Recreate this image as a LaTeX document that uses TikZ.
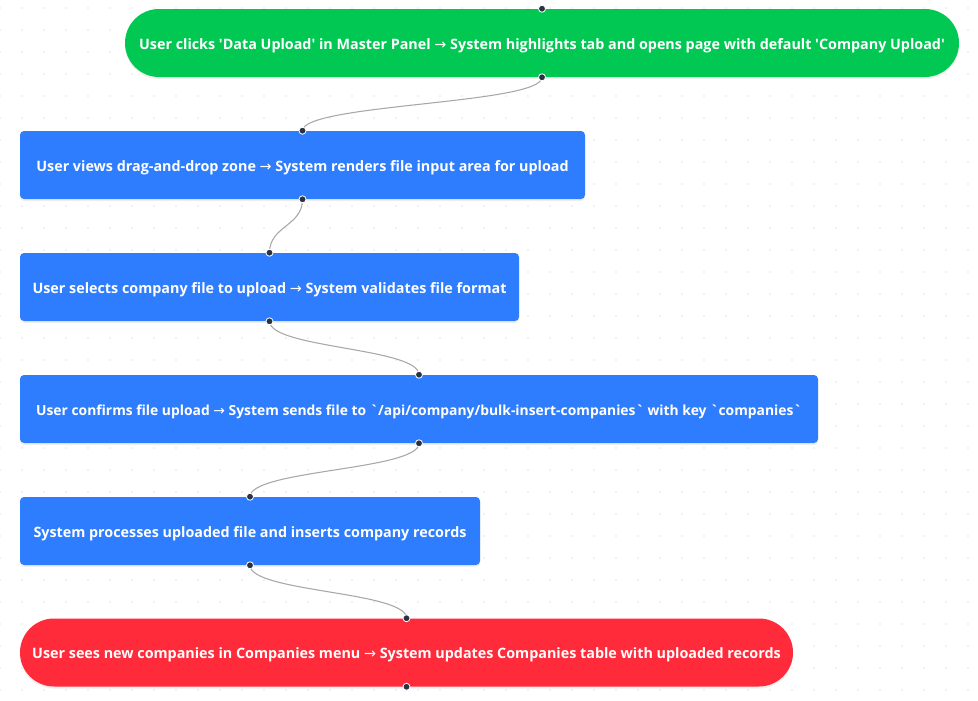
\documentclass[tikz,border=0pt]{standalone}
\usepackage{fontspec}
\setmainfont{Open Sans}[Ligatures=TeXOff]
\newfontfamily\arrowfont{DejaVu Sans}
\newcommand\rarr{{\arrowfont\mdseries →}}
\usetikzlibrary{shapes.misc,shadows}
\definecolor{gfill}{HTML}{00C853}
\definecolor{bfill}{HTML}{2E7DFE}
\definecolor{rfill}{HTML}{FF2A3A}
\definecolor{hnd}{HTML}{2B3342}
\definecolor{edgec}{HTML}{A8A8A8}
\definecolor{dotc}{HTML}{E4E4E4}
\begin{document}
\begin{tikzpicture}[x=0.75pt,y=-0.75pt,
  box/.style={draw=none,minimum height=68*0.75pt,inner sep=0pt,text=white,
    text height=9.6pt,text depth=0pt,
    font=\fontsize{10.75pt}{13pt}\selectfont\bfseries,
    drop shadow={opacity=0.12,shadow xshift=0pt,shadow yshift=-1.5pt}},
  stepbox/.style={box,rectangle,rounded corners=4*0.75pt,fill=bfill},
  startbox/.style={box,rounded rectangle,fill=gfill},
  endbox/.style={box,rounded rectangle,fill=rfill},
  edge/.style={draw=edgec,line width=0.8pt},
  handle/.style={circle,fill=hnd,draw=white,line width=0.6pt,inner sep=0pt,minimum size=7*0.75pt}
]
\useasboundingbox (0,0) rectangle (978,700);
\fill[white] (0,0) rectangle (978,700);
\foreach \i in {0,22,...,978}{
  \foreach \j in {8,30,...,700}{
    \fill[dotc] (\i,\j) circle (0.8);
  }
}
\node[startbox,minimum width=834*0.75pt] (g) at (542,43) {User clicks 'Data Upload' in Master Panel \rarr{} System highlights tab and opens page with default 'Company Upload'};
\node[stepbox,minimum width=565*0.75pt] (b1) at (302.5,165) {User views drag-and-drop zone \rarr{} System renders file input area for upload};
\node[stepbox,minimum width=499*0.75pt] (b2) at (269.5,287) {User selects company file to upload \rarr{} System validates file format};
\node[stepbox,minimum width=798*0.75pt,font=\fontsize{10.4pt}{13pt}\selectfont\bfseries] (b3) at (419,409) {User confirms file upload \rarr{} System sends file to `/api/company/bulk-insert-companies` with key `companies`};
\node[stepbox,minimum width=460*0.75pt] (b4) at (250,531) {System processes uploaded file and inserts company records};
\node[endbox,minimum width=773*0.75pt] (r) at (406.5,652.5) {User sees new companies in Companies menu \rarr{} System updates Companies table with uploaded records};

\draw[edge] (g.south) .. controls +(0,27) and +(0,-27) .. (b1.north);
\draw[edge] (b1.south) .. controls +(0,27) and +(0,-27) .. (b2.north);
\draw[edge] (b2.south) .. controls +(0,27) and +(0,-27) .. (b3.north);
\draw[edge] (b3.south) .. controls +(0,27) and +(0,-27) .. (b4.north);
\draw[edge] (b4.south) .. controls +(0,27) and +(0,-27) .. (r.north);

\foreach \n in {g,b1,b2,b3,b4,r}{
  \node[handle] (\n-top) at (\n.north) {};
  \node[handle] (\n-bot) at (\n.south) {};
}
\end{tikzpicture}
\end{document}
